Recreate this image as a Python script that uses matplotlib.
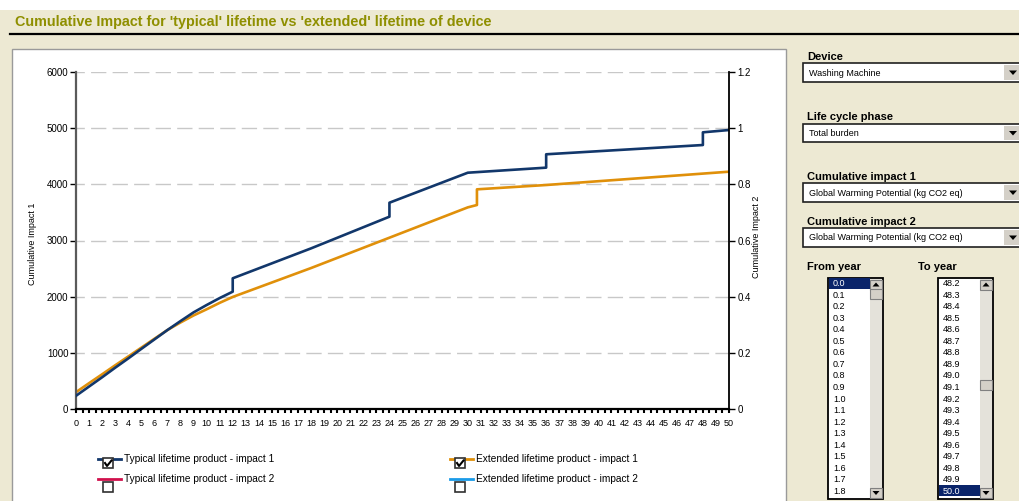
import matplotlib
matplotlib.use('Agg')
import matplotlib.pyplot as plt
from matplotlib.patches import Rectangle, Polygon

# data
years_typical = [0, 1, 2, 3, 4, 5, 6, 7, 8, 9, 10, 11, 12, 12, 18, 24, 24, 30, 36, 36, 48, 48, 50]
impact_typical = [235, 400, 565, 735, 900, 1070, 1238, 1406, 1565, 1720, 1851, 1975, 2089, 2327,
                  2860, 3424, 3673, 4207, 4297, 4535, 4700, 4926, 4967]
years_extended = [0, 1, 2, 3, 4, 5, 6, 7, 8, 9, 10, 11, 12, 18, 24, 30, 30.7, 30.7, 36, 50]
impact_extended = [300, 460, 618, 778, 935, 1092, 1250, 1406, 1540, 1665, 1775, 1890, 1995,
                   2510, 3050, 3590, 3632, 3911, 3988, 4225]

left_ticks = [0, 1000, 2000, 3000, 4000, 5000, 6000]
right_ticks = [0, 0.2, 0.4, 0.6, 0.8, 1.0, 1.2]
right_labels = ['0', '0.2', '0.4', '0.6', '0.8', '1', '1.2']
x_ticks = list(range(0, 51))

legend_labels = ['Typical lifetime product - impact 1', 'Typical lifetime product - impact 2',
                 'Extended lifetime product - impact 1', 'Extended lifetime product - impact 2']
legend_colors = ['#12376B', '#D0104C', '#E0900A', '#1A9BE8']
legend_checked = [True, False, True, False]

control_titles = ['Device', 'Life cycle phase', 'Cumulative impact 1', 'Cumulative impact 2']
control_values = ['Washing Machine', 'Total burden',
                  'Global Warming Potential (kg CO2 eq)', 'Global Warming Potential (kg CO2 eq)']
from_years = ['0.0', '0.1', '0.2', '0.3', '0.4', '0.5', '0.6', '0.7', '0.8', '0.9',
              '1.0', '1.1', '1.2', '1.3', '1.4', '1.5', '1.6', '1.7', '1.8']
to_years = ['48.2', '48.3', '48.4', '48.5', '48.6', '48.7', '48.8', '48.9', '49.0', '49.1',
            '49.2', '49.3', '49.4', '49.5', '49.6', '49.7', '49.8', '49.9', '50.0']

W, H = 1019, 501
beige = '#EDE9D3'
navy = '#12376B'
orange = '#E0900A'
font = 'Liberation Sans'

fig = plt.figure(figsize=(W / 100, H / 100), dpi=100)
fig.patch.set_facecolor(beige)

# background layer in pixel coordinates
bg = fig.add_axes([0, 0, 1, 1], zorder=0)
bg.set_xlim(0, W)
bg.set_ylim(H, 0)
bg.axis('off')

bg.add_patch(Rectangle((0, 0), W, 10, fc='white', ec='none'))
bg.text(15, 22, "Cumulative Impact for 'typical' lifetime vs 'extended' lifetime of device",
        fontsize=10.4, fontweight='bold', color='#8F8F00', family=font, va='center')
bg.plot([10, W], [33.5, 33.5], color='black', lw=1.6)
bg.add_patch(Rectangle((12, 49), 774, 470, fc='white', ec='#9A9A9A', lw=1, zorder=1))

# legend
for i, (lab, col, chk) in enumerate(zip(legend_labels, legend_colors, legend_checked)):
    x0 = 98 if i < 2 else 450
    y = 459 if i % 2 == 0 else 479
    bg.plot([x0, x0 + 23], [y, y], color=col, lw=2, zorder=3)
    bx = x0 + 5
    by = y - 1 if i % 2 == 0 else y + 3
    bg.add_patch(Rectangle((bx, by), 10, 10, fc='white', ec='#303030', lw=1.2, zorder=4))
    if chk:
        bg.plot([bx + 2, bx + 4, bx + 8.5], [by + 5, by + 8, by + 2.5], color='black', lw=1.5, zorder=5)
    bg.text(x0 + 26, y + 0.5, lab, fontsize=7.3, family=font, va='center', zorder=3)

# drop-down boxes
label_y = [57, 117, 177, 222]
box_y = [(63, 82), (124, 142), (183, 202), (228, 247)]
for title, value, ly, (y0, y1) in zip(control_titles, control_values, label_y, box_y):
    bg.text(807, ly, title, fontsize=8, fontweight='bold', family=font, va='center')
    bg.add_patch(Rectangle((803.5, y0), 240, y1 - y0, fc='white', ec='#202020', lw=1.2))
    bg.add_patch(Rectangle((1004, y0 + 2), 20, y1 - y0 - 4, fc='#D4D0C8', ec='none'))
    mid = (y0 + y1) / 2
    bg.add_patch(Polygon([(1009, mid - 2), (1017, mid - 2), (1013, mid + 2.5)], fc='black', ec='none'))
    bg.text(809, mid + 0.5, value, fontsize=6.5, family=font, va='center')

bg.text(807, 267, 'From year', fontsize=8, fontweight='bold', family=font, va='center')
bg.text(918, 267, 'To year', fontsize=8, fontweight='bold', family=font, va='center')


def listbox(x0, x1, items, selected, thumb_y):
    bg.add_patch(Rectangle((x0, 278), x1 - x0, 221, fc='white', ec='black', lw=1.3))
    sx = x1 - 13
    bg.add_patch(Rectangle((sx, 279), 12, 219, fc='#E4E2DA', ec='none'))
    for by, up in [(279.5, True), (488, False)]:
        bg.add_patch(Rectangle((sx, by), 12, 10, fc='#D4D0C8', ec='#808080', lw=0.8))
        if up:
            tri = [(sx + 2.5, by + 7), (sx + 9.5, by + 7), (sx + 6, by + 3)]
        else:
            tri = [(sx + 2.5, by + 3), (sx + 9.5, by + 3), (sx + 6, by + 7)]
        bg.add_patch(Polygon(tri, fc='black', ec='none'))
    bg.add_patch(Rectangle((sx, thumb_y), 12, 10, fc='#D4D0C8', ec='#808080', lw=0.8))
    for i, item in enumerate(items):
        y = 283.3 + i * 11.52
        col = 'black'
        if i == selected:
            bg.add_patch(Rectangle((x0 + 1, y - 5.6), sx - x0 - 1, 11.3, fc='#0A246A', ec='none'))
            col = 'white'
        bg.text(x0 + 5, y + 0.5, item, fontsize=6.5, family=font, va='center', color=col)


listbox(828, 883, from_years, 0, 289)
listbox(938, 993, to_years, len(to_years) - 1, 380)

# chart
ax = fig.add_axes([76 / W, (H - 409) / H, (729 - 76) / W, (409 - 72) / H], zorder=2)
ax.set_facecolor('none')
ax.plot(years_typical, impact_typical, color=navy, lw=1.9, zorder=3)
ax.plot(years_extended, impact_extended, color=orange, lw=1.9, zorder=2)
ax.set_xlim(0, 50)
ax.set_ylim(0, 6000)
ax.set_yticks(left_ticks)
ax.set_xticks(x_ticks)
ax.set_xticks([v + 0.5 for v in x_ticks[:-1]], minor=True)
ax.grid(axis='y', color='#C8C8C8', lw=1, linestyle=(5, (11, 4.5)))
ax.set_axisbelow(True)
ax.spines['top'].set_visible(False)
ax.spines['right'].set_visible(False)
ax.spines['left'].set_color('#5A5A5A')
ax.spines['left'].set_linewidth(1.6)
ax.spines['bottom'].set_linewidth(1.6)
ax.tick_params(axis='y', direction='out', length=4, width=1, pad=1.5, labelsize=7, labelfontfamily=font)
ax.tick_params(axis='x', which='major', direction='out', length=3, width=1.5, pad=4, labelsize=6.5,
               labelfontfamily=font)
ax.tick_params(axis='x', which='minor', direction='out', length=3, width=1.5)
ax.set_ylabel('Cumulative Impact 1', fontsize=6.5, family=font)
ax.yaxis.set_label_coords(-0.06, 0.49)

ax2 = ax.twinx()
ax2.set_ylim(0, 1.2)
ax2.set_yticks(right_ticks)
ax2.set_yticklabels(right_labels)
for s in ['top', 'left', 'bottom']:
    ax2.spines[s].set_visible(False)
ax2.spines['right'].set_linewidth(1.3)
ax2.tick_params(axis='y', direction='out', length=4, width=1, pad=2, labelsize=7, labelfontfamily=font)
ax2.set_ylabel('Cumulative Impact 2', fontsize=6.5, family=font)
ax2.yaxis.set_label_coords(1.035, 0.51)

fig.savefig('out.png', dpi=100, facecolor=beige)
